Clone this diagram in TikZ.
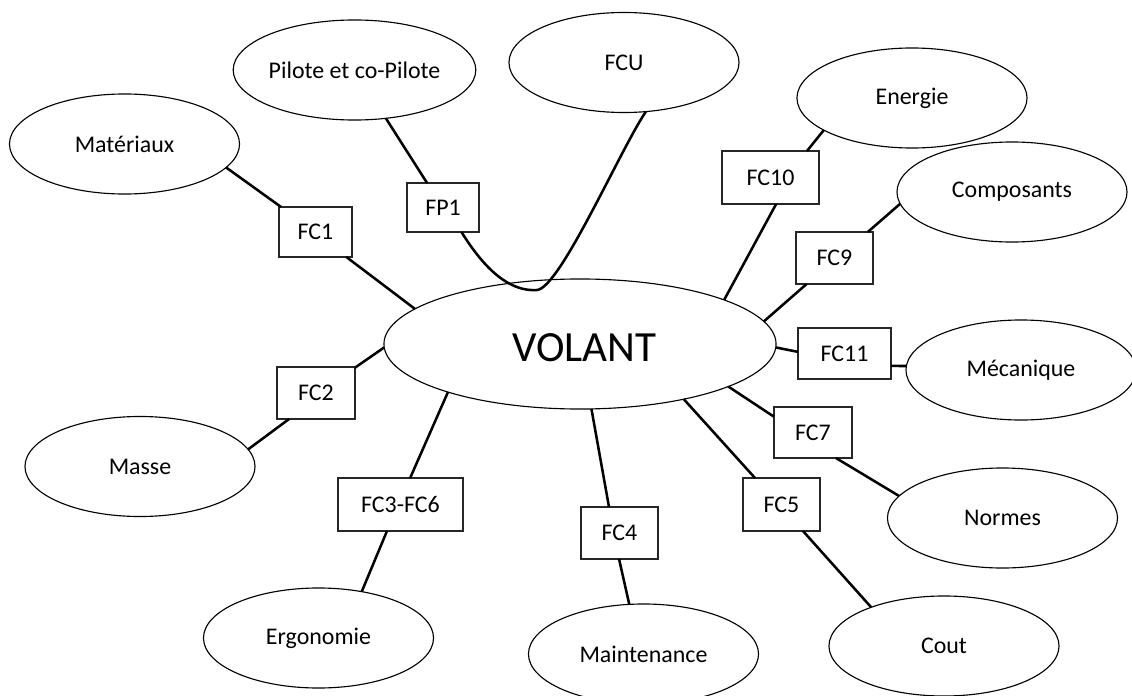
\documentclass[tikz,border=0pt]{standalone}
\usepackage{fontspec}
\setmainfont{Carlito}
\usetikzlibrary{shapes.geometric}
\begin{document}
\begin{tikzpicture}[x=0.025cm, y=-0.025cm,
  oval/.style={ellipse, draw=black, line width=0.8pt, minimum width=5.75cm,
    minimum height=2.5cm, inner sep=0pt, outer sep=0pt,
    font=\fontsize{17pt}{20pt}\selectfont},
  hub/.style={ellipse, draw=black, line width=0.8pt, minimum width=9.8cm,
    minimum height=3.25cm, inner sep=0pt, outer sep=0pt,
    text height=0.85cm, text depth=0pt,
    font=\fontsize{30.6pt}{36pt}\selectfont},
  fbox/.style 2 args={rectangle, draw=black!85, line width=0.8pt, fill=white,
    minimum width=#1, minimum height=#2, inner sep=0pt, outer sep=0pt,
    font=\fontsize{17pt}{20pt}\selectfont},
  link/.style={line width=1.8pt, black}]

% canvas
\path[use as bounding box, fill=white] (0,0) rectangle (1132,696);

% central element
\node[hub] (vol) at (580,344) {\hspace*{0.225cm}VOLANT};

% surrounding elements
\node[oval] (mat) at (124.5,144) {Matériaux};
\node[oval] (pil) at (354.5,70) {Pilote et co-Pilote};
\node[oval] (fcu) at (624,62.5) {FCU};
\node[oval] (ene) at (912,98) {Energie};
\node[oval] (com) at (1012,192) {Composants};
\node[oval] (mec) at (1021,370) {Mécanique};
\node[oval] (nor) at (1002.5,518) {Normes};
\node[oval] (cou) at (944,646) {Cout};
\node[oval] (mai) at (643.5,654) {Maintenance};
\node[oval] (erg) at (318.5,638) {Ergonomie};
\node[oval] (mas) at (140,466.5) {Masse};

% function labels
\node[fbox={1.825cm}{1.25cm}]  (fc1)  at (315.5,232)   {FC1};
\node[fbox={1.8cm}{1.225cm}]   (fp1)  at (443,207.5)   {FP1};
\node[fbox={2.425cm}{1.325cm}] (fc10) at (770.5,177.5) {FC10};
\node[fbox={1.925cm}{1.3cm}]   (fc9)  at (834.5,258)   {FC9};
\node[fbox={2.325cm}{1.275cm}] (fc11) at (844.5,353.5) {FC11};
\node[fbox={1.95cm}{1.275cm}]  (fc7)  at (813,432.5)   {FC7};
\node[fbox={1.925cm}{1.325cm}] (fc5)  at (781.5,504.5) {FC5};
\node[fbox={1.925cm}{1.3cm}]   (fc4)  at (619.5,533)   {FC4};
\node[fbox={3.125cm}{1.325cm}] (fc3)  at (400.5,504.5) {FC3-FC6};
\node[fbox={1.95cm}{1.3cm}]    (fc2)  at (316,393)     {FC2};

% connectors
\draw[link] (mat.-13.5) -- (fc1.144);
\draw[link] (fc1.-39.3) -- (vol.168.5);
\draw[link] (pil.-57.4) -- (fp1.123.1);
\draw[link] (fp1.-53.7) .. controls (485,270) and (510,292) .. (537,290)
                        .. controls (560,288) and (620,150) .. (fcu.-66.2);
\draw[link] (ene.200.8) -- (fc10.36);
\draw[link] (fc10.-78.3) -- (vol.17.3);
\draw[link] (com.186.6) -- (fc9.38.7);
\draw[link] (fc9.-137.6) -- (vol.7.8);
\draw[link] (vol.-1.2) -- (fc11.178.2);
\draw[link] (fc11.-15) -- (mec.178.5);
\draw[link] (vol.-16.1) -- (fc7.158.3);
\draw[link] (fc7.-48) -- (nor.168.8);
\draw[link] (vol.-28.8) -- (fc5.135);
\draw[link] (fc5.-51) -- (cou.152.2);
\draw[link] (vol.-80.7) -- (fc4.112);
\draw[link] (fc4.-91) -- (mai.106.9);
\draw[link] (vol.200.8) -- (fc3.70.3);
\draw[link] (fc3.-117) -- (erg.47.9);
\draw[link] (vol.181) -- (fc2.33.7);
\draw[link] (fc2.-136) -- (mas.9.7);
\end{tikzpicture}
\end{document}
